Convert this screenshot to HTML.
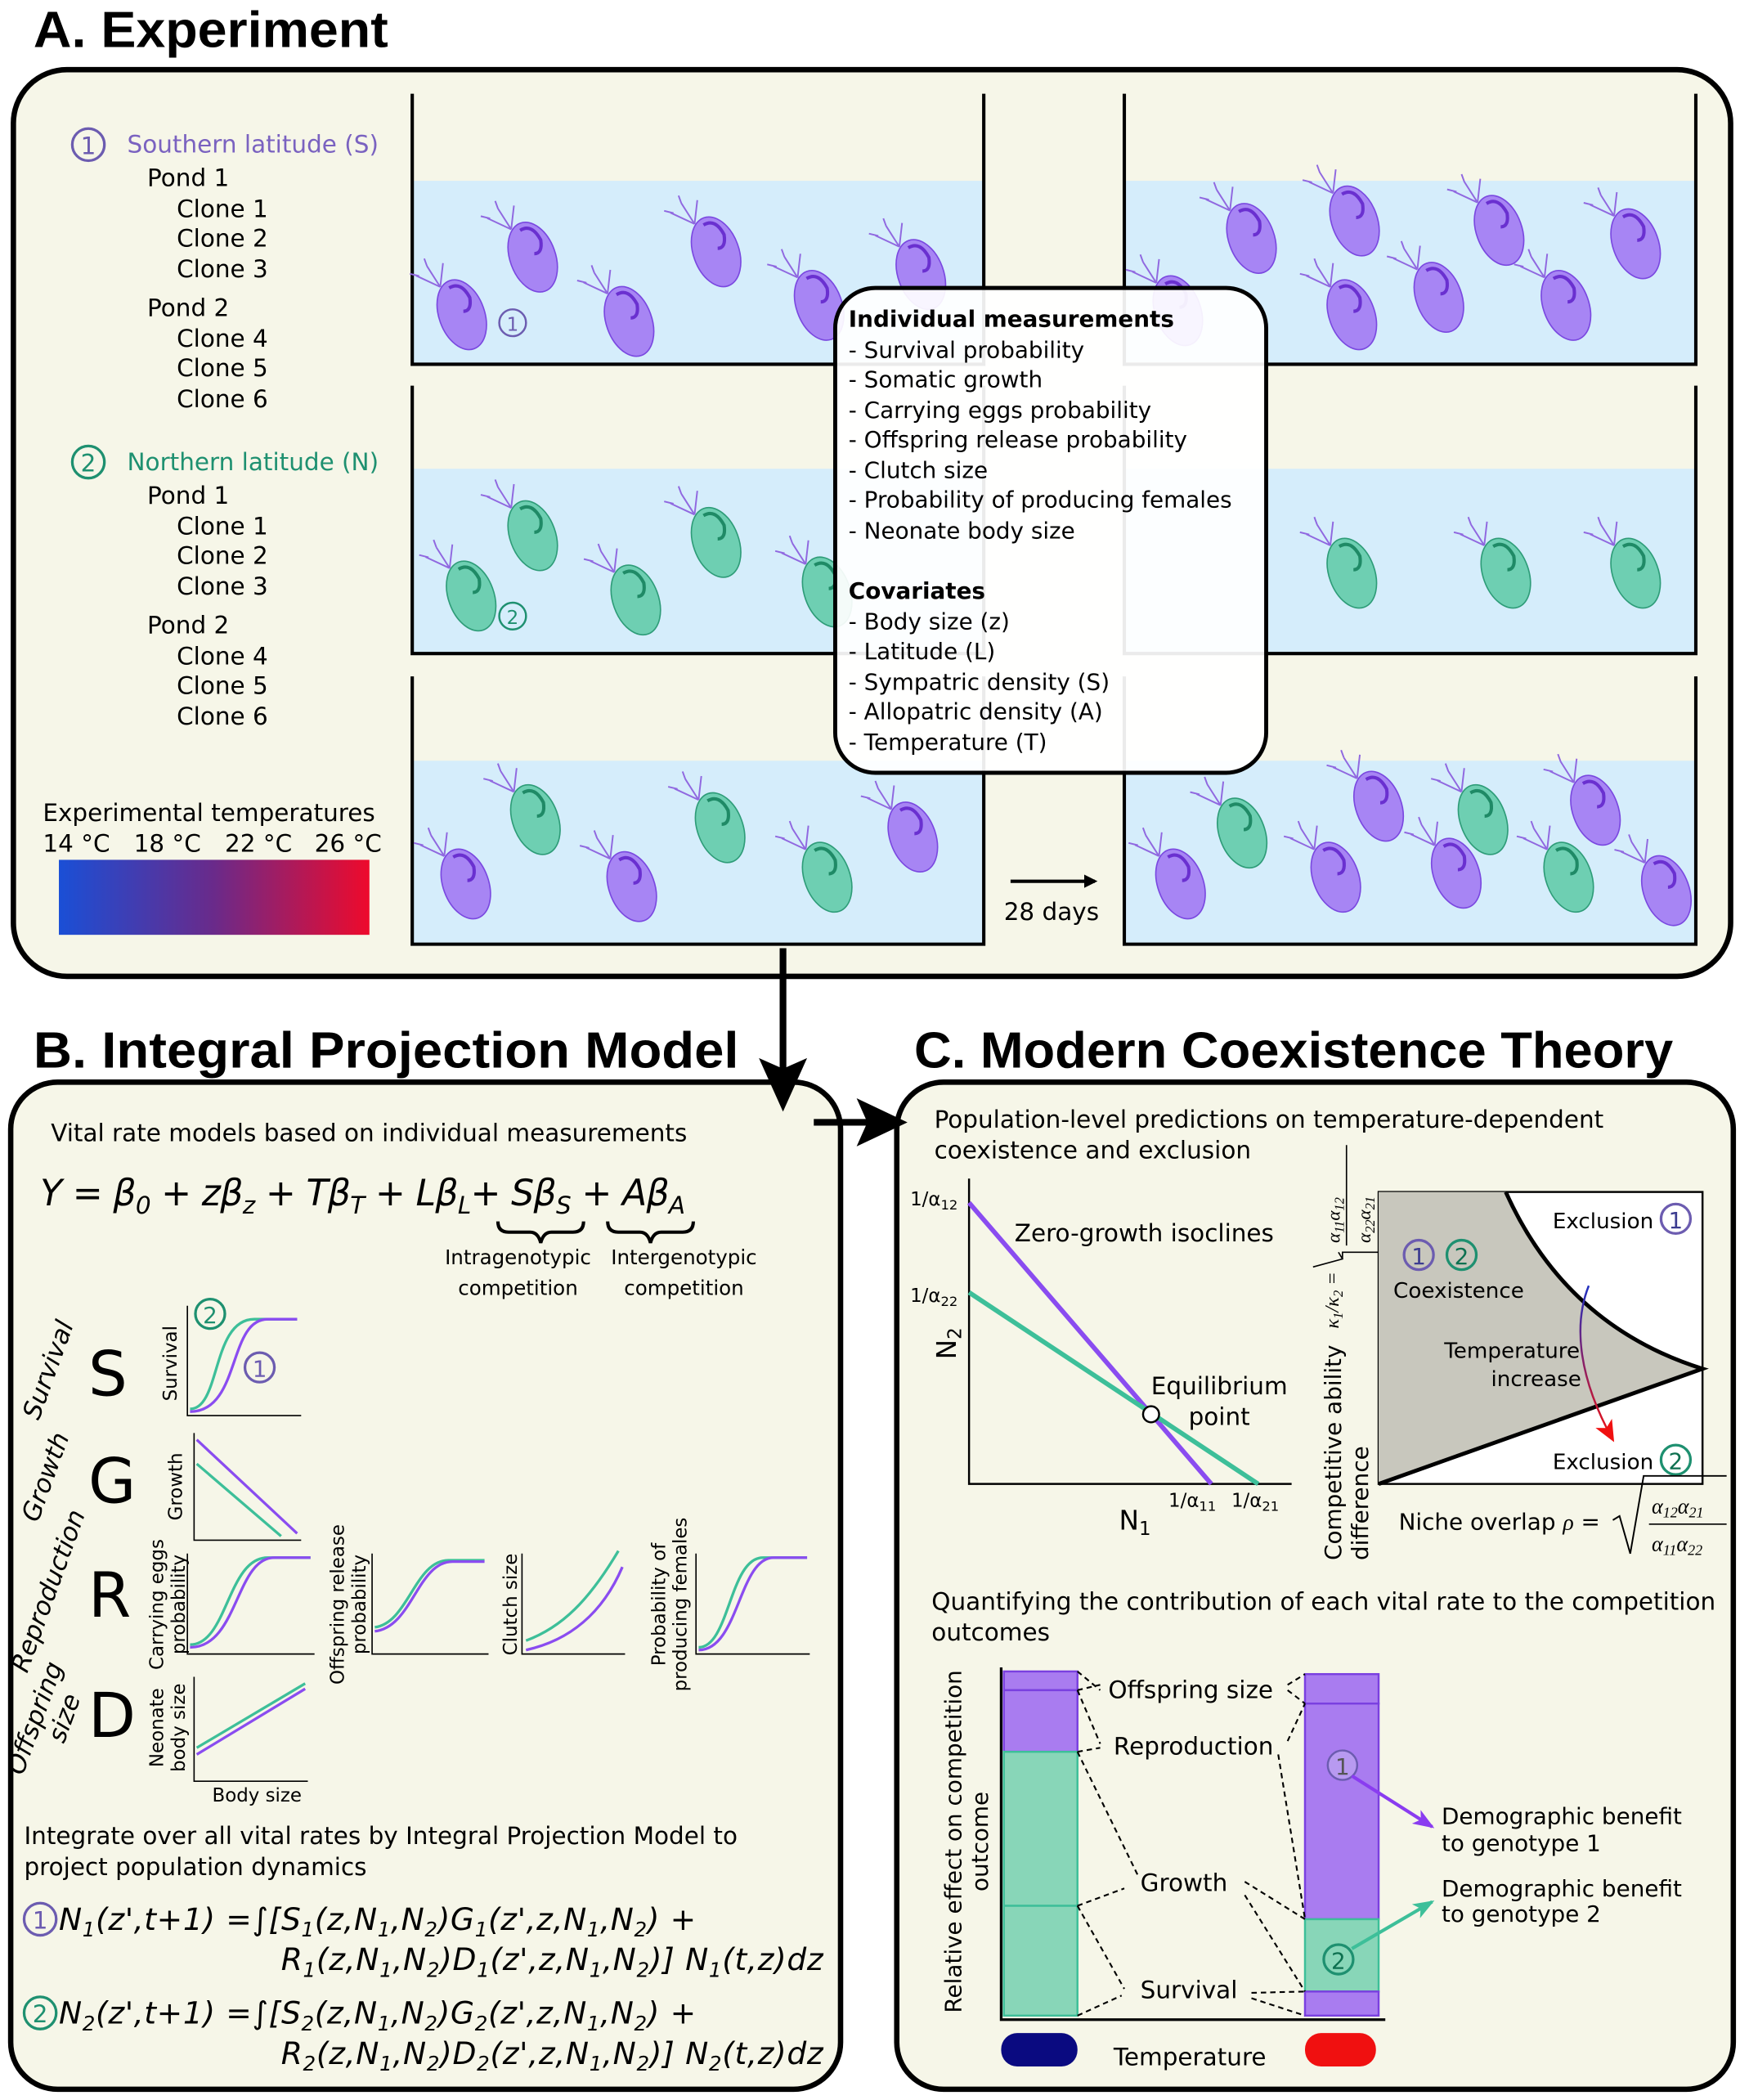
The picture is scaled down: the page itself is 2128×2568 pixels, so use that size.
<!DOCTYPE html>
<html><head><meta charset="utf-8"><style>
html,body{margin:0;padding:0;background:#fff}
svg{display:block}
text{font-family:"DejaVu Sans","Liberation Sans",sans-serif}
.t{font-size:18px}
.s{font-size:15px}
.it{font-style:italic}
.b{font-weight:bold}
.ttl{font-family:"Liberation Sans",sans-serif;font-weight:bold;font-size:38px}
.ser{font-family:"Liberation Serif",serif;font-style:italic}
</style></head><body>
<svg width="2128" height="2568" viewBox="0 0 1300 1568" preserveAspectRatio="none" xmlns="http://www.w3.org/2000/svg">
<defs>
<linearGradient id="tg" x1="0" x2="1"><stop offset="0" stop-color="#1a4fd6"/><stop offset="0.5" stop-color="#6a2a8a"/><stop offset="1" stop-color="#ee0a2c"/></linearGradient>
<linearGradient id="ag" x1="0" y1="0" x2="0" y2="1"><stop offset="0" stop-color="#2030c0"/><stop offset="1" stop-color="#f01010"/></linearGradient>
<g id="dp" transform="rotate(-20)"><ellipse cx="0" cy="0" rx="17" ry="27" fill="#9f72f2" fill-opacity="0.85" stroke="#7a48e0" stroke-width="1"/><path d="M-2,-22 q10,-2 12,12 q-2,10 -8,8" fill="none" stroke="#6a30d0" stroke-width="2.5"/><path d="M-8,-25 l-14,-14 M-8,-25 l-4,-18 M-8,-25 l8,-16 M-20,-38 l-6,-4 M-12,-43 l0,-6" stroke="#9068e0" stroke-width="1.2" fill="none"/></g>
<g id="dg" transform="rotate(-20)"><ellipse cx="0" cy="0" rx="17" ry="27" fill="#5cc9a4" fill-opacity="0.85" stroke="#2e9c78" stroke-width="1"/><path d="M-2,-22 q10,-2 12,12 q-2,10 -8,8" fill="none" stroke="#1f8a66" stroke-width="2.5"/><path d="M-8,-25 l-14,-14 M-8,-25 l-4,-18 M-8,-25 l8,-16 M-20,-38 l-6,-4 M-12,-43 l0,-6" stroke="#9068e0" stroke-width="1.2" fill="none"/></g>
<marker id="ar" markerWidth="10" markerHeight="10" refX="8" refY="5" orient="auto" markerUnits="userSpaceOnUse"><path d="M0,0 L10,5 L0,10 z" fill="#000"/></marker>
<marker id="arp" markerWidth="16" markerHeight="12" refX="14" refY="6" orient="auto" markerUnits="userSpaceOnUse"><path d="M0,0 L16,6 L0,12 L4,6z" fill="#8a3cf0"/></marker>
<marker id="arg" markerWidth="16" markerHeight="12" refX="14" refY="6" orient="auto" markerUnits="userSpaceOnUse"><path d="M0,0 L16,6 L0,12 L4,6z" fill="#3dbf99"/></marker>
<marker id="arr" markerWidth="16" markerHeight="14" refX="14" refY="7" orient="auto" markerUnits="userSpaceOnUse"><path d="M0,0 L16,7 L0,14 L4,7z" fill="#f01010"/></marker>
</defs>

<!-- Panel A -->
<text x="25" y="35" class="ttl" textLength="265" lengthAdjust="spacingAndGlyphs">A. Experiment</text>
<rect x="10" y="52" width="1283" height="677" rx="40" fill="#f6f6e8" stroke="#000" stroke-width="4"/>

<circle cx="66" cy="108" r="12" fill="none" stroke="#6c5cb0" stroke-width="2"/><text x="66" y="115" font-size="18" text-anchor="middle" fill="#6c5cb0">1</text>
<text x="95" y="114" class="t" fill="#7a62c0">Southern latitude (S)</text>
<text class="t"><tspan x="110" y="139">Pond 1</tspan><tspan x="132" y="162">Clone 1</tspan><tspan x="132" y="184">Clone 2</tspan><tspan x="132" y="207">Clone 3</tspan><tspan x="110" y="236">Pond 2</tspan><tspan x="132" y="259">Clone 4</tspan><tspan x="132" y="281">Clone 5</tspan><tspan x="132" y="304">Clone 6</tspan></text>
<circle cx="66" cy="345" r="12" fill="none" stroke="#1e9070" stroke-width="2"/><text x="66" y="352" font-size="18" text-anchor="middle" fill="#1e9070">2</text>
<text x="95" y="351" class="t" fill="#1e9070">Northern latitude (N)</text>
<text class="t"><tspan x="110" y="376">Pond 1</tspan><tspan x="132" y="399">Clone 1</tspan><tspan x="132" y="421">Clone 2</tspan><tspan x="132" y="444">Clone 3</tspan><tspan x="110" y="473">Pond 2</tspan><tspan x="132" y="496">Clone 4</tspan><tspan x="132" y="518">Clone 5</tspan><tspan x="132" y="541">Clone 6</tspan></text>
<text x="32" y="613" class="t">Experimental temperatures</text>
<text class="t" y="636"><tspan x="32">14 °C</tspan><tspan x="100">18 °C</tspan><tspan x="168">22 °C</tspan><tspan x="235">26 °C</tspan></text>
<rect x="44" y="642" width="232" height="56" fill="url(#tg)"/>

<g fill="#d5edfb">
<rect x="308" y="135" width="427" height="137"/><rect x="840" y="135" width="427" height="137"/>
<rect x="308" y="350" width="427" height="138"/><rect x="840" y="350" width="427" height="138"/>
<rect x="308" y="568" width="427" height="137"/><rect x="840" y="568" width="427" height="137"/>
</g>
<g fill="none" stroke="#000" stroke-width="2.5">
<path d="M308,70V272H735V70M840,70V272H1267V70"/>
<path d="M308,288V488H735V288M840,288V488H1267V288"/>
<path d="M308,505V705H735V505M840,505V705H1267V505"/>
</g>
<use href="#dp" x="345" y="235"/><use href="#dp" x="398" y="192"/><use href="#dp" x="470" y="240"/><use href="#dp" x="535" y="188"/><use href="#dp" x="612" y="228"/><use href="#dp" x="688" y="205"/>
<circle cx="383" cy="241" r="10" fill="none" stroke="#6c5cb0" stroke-width="1.5"/><text x="383" y="247" font-size="14" text-anchor="middle" fill="#6c5cb0">1</text>
<use href="#dp" x="880" y="232"/><use href="#dp" x="935" y="178"/><use href="#dp" x="1012" y="165"/><use href="#dp" x="1075" y="222"/><use href="#dp" x="1120" y="172"/><use href="#dp" x="1170" y="228"/><use href="#dp" x="1222" y="182"/><use href="#dp" x="1010" y="235"/>
<use href="#dg" x="352" y="445"/><use href="#dg" x="398" y="400"/><use href="#dg" x="475" y="448"/><use href="#dg" x="535" y="405"/><use href="#dg" x="618" y="442"/>
<circle cx="383" cy="460" r="10" fill="none" stroke="#1e9070" stroke-width="1.5"/><text x="383" y="466" font-size="14" text-anchor="middle" fill="#1e9070">2</text>
<use href="#dg" x="1010" y="428"/><use href="#dg" x="1125" y="428"/><use href="#dg" x="1222" y="428"/>
<use href="#dp" x="348" y="660"/><use href="#dg" x="400" y="612"/><use href="#dp" x="472" y="662"/><use href="#dg" x="538" y="618"/><use href="#dg" x="618" y="655"/><use href="#dp" x="682" y="625"/>
<use href="#dp" x="882" y="660"/><use href="#dg" x="928" y="622"/><use href="#dp" x="998" y="655"/><use href="#dp" x="1030" y="602"/><use href="#dp" x="1088" y="652"/><use href="#dg" x="1108" y="612"/><use href="#dg" x="1172" y="655"/><use href="#dp" x="1192" y="605"/><use href="#dp" x="1245" y="665"/>

<line x1="755" y1="658" x2="818" y2="658" stroke="#000" stroke-width="2.5" marker-end="url(#ar)"/>
<text x="750" y="687" class="t">28 days</text>

<rect x="624" y="215" width="322" height="362" rx="30" fill="#fff" fill-opacity="0.92" stroke="#000" stroke-width="3"/>
<text font-size="17"><tspan x="634" y="244" class="b">Individual measurements</tspan><tspan x="634" y="267">- Survival probability</tspan><tspan x="634" y="289">- Somatic growth</tspan><tspan x="634" y="312">- Carrying eggs probability</tspan><tspan x="634" y="334">- Offspring release probability</tspan><tspan x="634" y="357">- Clutch size</tspan><tspan x="634" y="379">- Probability of producing females</tspan><tspan x="634" y="402">- Neonate body size</tspan><tspan x="634" y="447" class="b">Covariates</tspan><tspan x="634" y="470">- Body size (z)</tspan><tspan x="634" y="492">- Latitude (L)</tspan><tspan x="634" y="515">- Sympatric density (S)</tspan><tspan x="634" y="537">- Allopatric density (A)</tspan><tspan x="634" y="560">- Temperature (T)</tspan></text>

<text x="25" y="797" class="ttl" textLength="527" lengthAdjust="spacingAndGlyphs">B. Integral Projection Model</text>
<text x="683" y="797" class="ttl" textLength="567" lengthAdjust="spacingAndGlyphs">C. Modern Coexistence Theory</text>
<rect x="8" y="808" width="620" height="752" rx="35" fill="#f6f6e8" stroke="#000" stroke-width="4"/>
<rect x="670" y="808" width="625" height="752" rx="35" fill="#f6f6e8" stroke="#000" stroke-width="4"/>
<line x1="585" y1="708" x2="585" y2="800" stroke="#000" stroke-width="5"/>
<path d="M567,790 L585,830 L603,790 L585,798z" fill="#000"/>
<line x1="608" y1="838" x2="650" y2="838" stroke="#000" stroke-width="5"/>
<path d="M640,820 L678,838 L640,856 L648,838z" fill="#000"/>

<!-- Panel B -->
<text x="38" y="852" class="t">Vital rate models based on individual measurements</text>
<text x="30" y="900" font-size="27" class="it" textLength="482">Y = β<tspan font-size="18" dy="6">0</tspan><tspan dy="-6"> + zβ</tspan><tspan font-size="18" dy="6">z</tspan><tspan dy="-6"> + Tβ</tspan><tspan font-size="18" dy="6">T</tspan><tspan dy="-6"> + Lβ</tspan><tspan font-size="18" dy="6">L</tspan><tspan dy="-6">+ Sβ</tspan><tspan font-size="18" dy="6">S</tspan><tspan dy="-6"> + Aβ</tspan><tspan font-size="18" dy="6">A</tspan></text>
<path d="M372,912 q0,8 8,8 h16 q6,0 8,8 q2,-8 8,-8 h16 q8,0 8,-8" fill="none" stroke="#000" stroke-width="2.5"/>
<path d="M454,912 q0,8 8,8 h16 q6,0 8,8 q2,-8 8,-8 h16 q8,0 8,-8" fill="none" stroke="#000" stroke-width="2.5"/>
<text class="s" text-anchor="middle"><tspan x="387" y="944">Intragenotypic</tspan><tspan x="387" y="967">competition</tspan><tspan x="511" y="944">Intergenotypic</tspan><tspan x="511" y="967">competition</tspan></text>

<g font-size="19" class="it" text-anchor="middle">
<text transform="translate(42,1025) rotate(-70)">Survival</text>
<text transform="translate(40,1105) rotate(-70)">Growth</text>
<text transform="translate(42,1190) rotate(-70)">Reproduction</text>
<text transform="translate(32,1285) rotate(-70)">Offspring</text>
<text transform="translate(54,1285) rotate(-70)">size</text>
</g>
<g font-size="46"><text x="66" y="1042">S</text><text x="66" y="1122">G</text><text x="66" y="1207">R</text><text x="66" y="1297">D</text></g>
<g fill="none" stroke="#000" stroke-width="1">
<path d="M140,975V1057H225"/><path d="M145,1070V1150H225"/><path d="M140,1160V1235H235"/><path d="M278,1160V1235H365"/><path d="M390,1160V1235H467"/><path d="M520,1160V1235H605"/><path d="M145,1252V1330H230"/>
</g>
<g fill="none" stroke-width="2">
<path d="M142,1052 C165,1052 158,985 190,985 H222" stroke="#3dbf99"/>
<path d="M142,1054 C180,1054 170,985 200,985 H222" stroke="#8a4cf0"/>
<path d="M147,1075 L222,1145" stroke="#8a4cf0"/><path d="M147,1093 L210,1147" stroke="#3dbf99"/>
<path d="M142,1228 C170,1228 170,1163 200,1163 H232" stroke="#3dbf99"/><path d="M142,1230 C178,1230 176,1163 205,1163 H232" stroke="#8a4cf0"/>
<path d="M280,1215 C305,1212 310,1165 335,1165 H362" stroke="#3dbf99"/><path d="M280,1218 C308,1215 312,1166 338,1166 H362" stroke="#8a4cf0"/>
<path d="M393,1225 C420,1215 440,1195 462,1158" stroke="#3dbf99"/><path d="M393,1232 C425,1225 450,1205 465,1170" stroke="#8a4cf0"/>
<path d="M522,1230 C545,1230 545,1163 570,1163 H603" stroke="#3dbf99"/><path d="M522,1232 C552,1232 552,1163 578,1163 H603" stroke="#8a4cf0"/>
<path d="M147,1305 L228,1257" stroke="#3dbf99"/><path d="M147,1310 L228,1261" stroke="#8a4cf0"/>
</g>
<circle cx="157" cy="981" r="11" fill="none" stroke="#1e9070" stroke-width="2"/><text x="157" y="988" font-size="17" text-anchor="middle" fill="#1e9070">2</text>
<circle cx="194" cy="1021" r="11" fill="none" stroke="#6c5cb0" stroke-width="2"/><text x="194" y="1028" font-size="17" text-anchor="middle" fill="#6c5cb0">1</text>
<g font-size="14" text-anchor="middle">
<text transform="translate(132,1018) rotate(-90)">Survival</text>
<text transform="translate(136,1110) rotate(-90)">Growth</text>
<text transform="translate(122,1198) rotate(-90)">Carrying eggs</text><text transform="translate(138,1198) rotate(-90)">probability</text>
<text transform="translate(257,1198) rotate(-90)">Offspring release</text><text transform="translate(273,1198) rotate(-90)">probability</text>
<text transform="translate(386,1198) rotate(-90)">Clutch size</text>
<text transform="translate(497,1198) rotate(-90)">Probability of</text><text transform="translate(513,1198) rotate(-90)">producing females</text>
<text transform="translate(122,1290) rotate(-90)">Neonate</text><text transform="translate(138,1290) rotate(-90)">body size</text>
<text x="192" y="1345">Body size</text>
</g>
<text class="t"><tspan x="18" y="1377">Integrate over all vital rates by Integral Projection Model to</tspan><tspan x="18" y="1400">project population dynamics</tspan></text>
<circle cx="30" cy="1433" r="12" fill="none" stroke="#6c5cb0" stroke-width="2"/><text x="30" y="1440" font-size="18" text-anchor="middle" fill="#6c5cb0">1</text>
<circle cx="30" cy="1503" r="12" fill="none" stroke="#1e9070" stroke-width="2"/><text x="30" y="1510" font-size="18" text-anchor="middle" fill="#1e9070">2</text>
<g font-size="23" class="it">
<text x="44" y="1441" textLength="476">N<tspan font-size="15" dy="5">1</tspan><tspan dy="-5">(z',t+1) =∫[S</tspan><tspan font-size="15" dy="5">1</tspan><tspan dy="-5">(z,N</tspan><tspan font-size="15" dy="5">1</tspan><tspan dy="-5">,N</tspan><tspan font-size="15" dy="5">2</tspan><tspan dy="-5">)G</tspan><tspan font-size="15" dy="5">1</tspan><tspan dy="-5">(z',z,N</tspan><tspan font-size="15" dy="5">1</tspan><tspan dy="-5">,N</tspan><tspan font-size="15" dy="5">2</tspan><tspan dy="-5">) +</tspan></text>
<text x="210" y="1471" textLength="405">R<tspan font-size="15" dy="5">1</tspan><tspan dy="-5">(z,N</tspan><tspan font-size="15" dy="5">1</tspan><tspan dy="-5">,N</tspan><tspan font-size="15" dy="5">2</tspan><tspan dy="-5">)D</tspan><tspan font-size="15" dy="5">1</tspan><tspan dy="-5">(z',z,N</tspan><tspan font-size="15" dy="5">1</tspan><tspan dy="-5">,N</tspan><tspan font-size="15" dy="5">2</tspan><tspan dy="-5">)] N</tspan><tspan font-size="15" dy="5">1</tspan><tspan dy="-5">(t,z)dz</tspan></text>
<text x="44" y="1511" textLength="476">N<tspan font-size="15" dy="5">2</tspan><tspan dy="-5">(z',t+1) =∫[S</tspan><tspan font-size="15" dy="5">2</tspan><tspan dy="-5">(z,N</tspan><tspan font-size="15" dy="5">1</tspan><tspan dy="-5">,N</tspan><tspan font-size="15" dy="5">2</tspan><tspan dy="-5">)G</tspan><tspan font-size="15" dy="5">2</tspan><tspan dy="-5">(z',z,N</tspan><tspan font-size="15" dy="5">1</tspan><tspan dy="-5">,N</tspan><tspan font-size="15" dy="5">2</tspan><tspan dy="-5">) +</tspan></text>
<text x="210" y="1541" textLength="405">R<tspan font-size="15" dy="5">2</tspan><tspan dy="-5">(z,N</tspan><tspan font-size="15" dy="5">1</tspan><tspan dy="-5">,N</tspan><tspan font-size="15" dy="5">2</tspan><tspan dy="-5">)D</tspan><tspan font-size="15" dy="5">2</tspan><tspan dy="-5">(z',z,N</tspan><tspan font-size="15" dy="5">1</tspan><tspan dy="-5">,N</tspan><tspan font-size="15" dy="5">2</tspan><tspan dy="-5">)] N</tspan><tspan font-size="15" dy="5">2</tspan><tspan dy="-5">(t,z)dz</tspan></text>
</g>

<!-- Panel C -->
<text class="t"><tspan x="698" y="842">Population-level predictions on temperature-dependent</tspan><tspan x="698" y="865">coexistence and exclusion</tspan></text>
<path d="M724,880V1108H965" fill="none" stroke="#000" stroke-width="1.5"/>
<line x1="724" y1="898" x2="905" y2="1108" stroke="#8a4cf0" stroke-width="3.5"/>
<line x1="724" y1="965" x2="940" y2="1108" stroke="#3dbf99" stroke-width="3.5"/>
<circle cx="860" cy="1056" r="6" fill="#fff" stroke="#000" stroke-width="1.5"/>
<g font-size="14"><text x="680" y="900">1/α<tspan font-size="10" dy="3">12</tspan></text><text x="680" y="972">1/α<tspan font-size="10" dy="3">22</tspan></text><text x="873" y="1125">1/α<tspan font-size="10" dy="3">11</tspan></text><text x="920" y="1125">1/α<tspan font-size="10" dy="3">21</tspan></text></g>
<text transform="translate(714,1015) rotate(-90)" font-size="20">N<tspan font-size="14" dy="4">2</tspan></text>
<text x="836" y="1142" font-size="20">N<tspan font-size="14" dy="4">1</tspan></text>
<text x="758" y="927" class="t">Zero-growth isoclines</text>
<text class="t"><tspan x="860" y="1041">Equilibrium</tspan><tspan x="888" y="1064">point</tspan></text>

<rect x="1030" y="890" width="242" height="218" fill="#fff" stroke="#000" stroke-width="1.5"/>
<path d="M1030,890 H1125 Q1170,990 1272,1022 L1030,1108 Z" fill="#c8c7bd"/>
<path d="M1125,890 Q1170,990 1272,1022 L1030,1108" fill="none" stroke="#000" stroke-width="3"/>
<text x="1160" y="917" font-size="16">Exclusion</text><circle cx="1252" cy="910" r="11" fill="none" stroke="#6c5cb0" stroke-width="2"/><text x="1252" y="917" font-size="17" text-anchor="middle" fill="#3c3c90">1</text>
<circle cx="1060" cy="937" r="11" fill="none" stroke="#6c5cb0" stroke-width="2"/><text x="1060" y="944" font-size="17" text-anchor="middle" fill="#3c3c90">1</text>
<circle cx="1092" cy="937" r="11" fill="none" stroke="#1e9070" stroke-width="2"/><text x="1092" y="944" font-size="17" text-anchor="middle" fill="#0e7050">2</text>
<text x="1041" y="969" font-size="16">Coexistence</text>
<text font-size="16"><tspan x="1079" y="1014">Temperature</tspan><tspan x="1114" y="1035">increase</tspan></text>
<text x="1160" y="1097" font-size="16">Exclusion</text><circle cx="1252" cy="1090" r="11" fill="none" stroke="#1e9070" stroke-width="2"/><text x="1252" y="1097" font-size="17" text-anchor="middle" fill="#0e7050">2</text>
<path d="M1187,960 C1175,990 1180,1030 1205,1075" fill="none" stroke="url(#ag)" stroke-width="1.5" marker-end="url(#arr)"/>
<text transform="translate(1002,1165) rotate(-90)" font-size="17">Competitive ability</text>
<text transform="translate(1022,1165) rotate(-90)" font-size="17">difference</text>
<text transform="translate(1000,992) rotate(-90)" font-size="15" class="ser">κ<tspan font-size="10" dy="3">1</tspan><tspan dy="-3">/κ</tspan><tspan font-size="10" dy="3">2</tspan><tspan dy="-3"> =</tspan></text>
<path d="M1000,935 l3,5 l-22,6 M1012,935 H1012 M1003,940 V935 H1030" fill="none" stroke="#000" stroke-width="1"/>
<line x1="1006" y1="855" x2="1006" y2="930" stroke="#000" stroke-width="1"/>
<text transform="translate(1001,928) rotate(-90)" font-size="14" class="ser">α<tspan font-size="10" dy="3">11</tspan><tspan dy="-3">α</tspan><tspan font-size="10" dy="3">12</tspan></text>
<text transform="translate(1024,928) rotate(-90)" font-size="14" class="ser">α<tspan font-size="10" dy="3">22</tspan><tspan dy="-3">α</tspan><tspan font-size="10" dy="3">21</tspan></text>
<text x="1045" y="1142" font-size="17">Niche overlap <tspan class="ser">ρ</tspan> =</text>
<path d="M1205,1135 l5,-3 l8,28 l10,-58 h62" fill="none" stroke="#000" stroke-width="1.2"/>
<line x1="1232" y1="1138" x2="1290" y2="1138" stroke="#000" stroke-width="1"/>
<text class="ser" font-size="16"><tspan x="1234" y="1130">α<tspan font-size="11" dy="3">12</tspan><tspan dy="-3">α</tspan><tspan font-size="11" dy="3">21</tspan></tspan><tspan x="1234" y="1158">α<tspan font-size="11" dy="3">11</tspan><tspan dy="-3">α</tspan><tspan font-size="11" dy="3">22</tspan></tspan></text>

<text class="t"><tspan x="696" y="1202">Quantifying the contribution of each vital rate to the competition</tspan><tspan x="696" y="1225">outcomes</tspan></text>
<g stroke="#7a40e0" stroke-width="1.5">
<rect x="750" y="1248" width="55" height="14" fill="#a97cf0"/><rect x="750" y="1262" width="55" height="46" fill="#a97cf0"/>
<rect x="750" y="1308" width="55" height="115" fill="#88d6b8" stroke="#3dbf99"/><rect x="750" y="1423" width="55" height="82" fill="#88d6b8" stroke="#3dbf99"/>
<rect x="975" y="1250" width="55" height="22" fill="#a97cf0"/><rect x="975" y="1272" width="55" height="161" fill="#a97cf0"/>
<rect x="975" y="1433" width="55" height="54" fill="#88d6b8" stroke="#3dbf99"/><rect x="975" y="1487" width="55" height="18" fill="#a97cf0"/>
</g>
<path d="M748,1245V1508H1035" fill="none" stroke="#000" stroke-width="2"/>
<g fill="none" stroke="#000" stroke-width="1.3" stroke-dasharray="4,3">
<path d="M805,1248 L822,1262 M805,1262 L822,1258 M962,1258 L975,1250 M962,1262 L975,1272"/>
<path d="M805,1262 L822,1302 M805,1308 L822,1305 M962,1300 L975,1272 M955,1310 L975,1433"/>
<path d="M805,1308 L850,1400 M805,1423 L840,1410 M930,1405 L975,1433 M930,1415 L975,1487"/>
<path d="M805,1423 L840,1485 M805,1505 L838,1490 M935,1488 L975,1487 M935,1492 L975,1505"/>
</g>
<g class="t"><text x="828" y="1268">Offspring size</text><text x="832" y="1310">Reproduction</text><text x="852" y="1412">Growth</text><text x="852" y="1492">Survival</text><text x="832" y="1542">Temperature</text></g>
<rect x="748" y="1518" width="57" height="25" rx="12" fill="#0a0a80"/>
<rect x="975" y="1518" width="53" height="25" rx="12" fill="#f01010"/>
<text transform="translate(718,1375) rotate(-90)" font-size="17" text-anchor="middle">Relative effect on competition</text>
<text transform="translate(738,1375) rotate(-90)" font-size="17" text-anchor="middle">outcome</text>
<circle cx="1003" cy="1318" r="11" fill="#b89af0" stroke="#6c5cb0" stroke-width="1.5"/><text x="1003" y="1325" font-size="17" text-anchor="middle" fill="#555">1</text>
<circle cx="1000" cy="1463" r="11" fill="#88d6b8" stroke="#1e9070" stroke-width="2"/><text x="1000" y="1470" font-size="17" text-anchor="middle" fill="#0e7050">2</text>
<line x1="1010" y1="1326" x2="1070" y2="1364" stroke="#8a3cf0" stroke-width="2.5" marker-end="url(#arp)"/>
<line x1="1010" y1="1455" x2="1070" y2="1420" stroke="#3dbf99" stroke-width="2.5" marker-end="url(#arg)"/>
<text font-size="17"><tspan x="1077" y="1362">Demographic benefit</tspan><tspan x="1077" y="1382">to genotype 1</tspan><tspan x="1077" y="1416">Demographic benefit</tspan><tspan x="1077" y="1435">to genotype 2</tspan></text>
</svg>
</body></html>
